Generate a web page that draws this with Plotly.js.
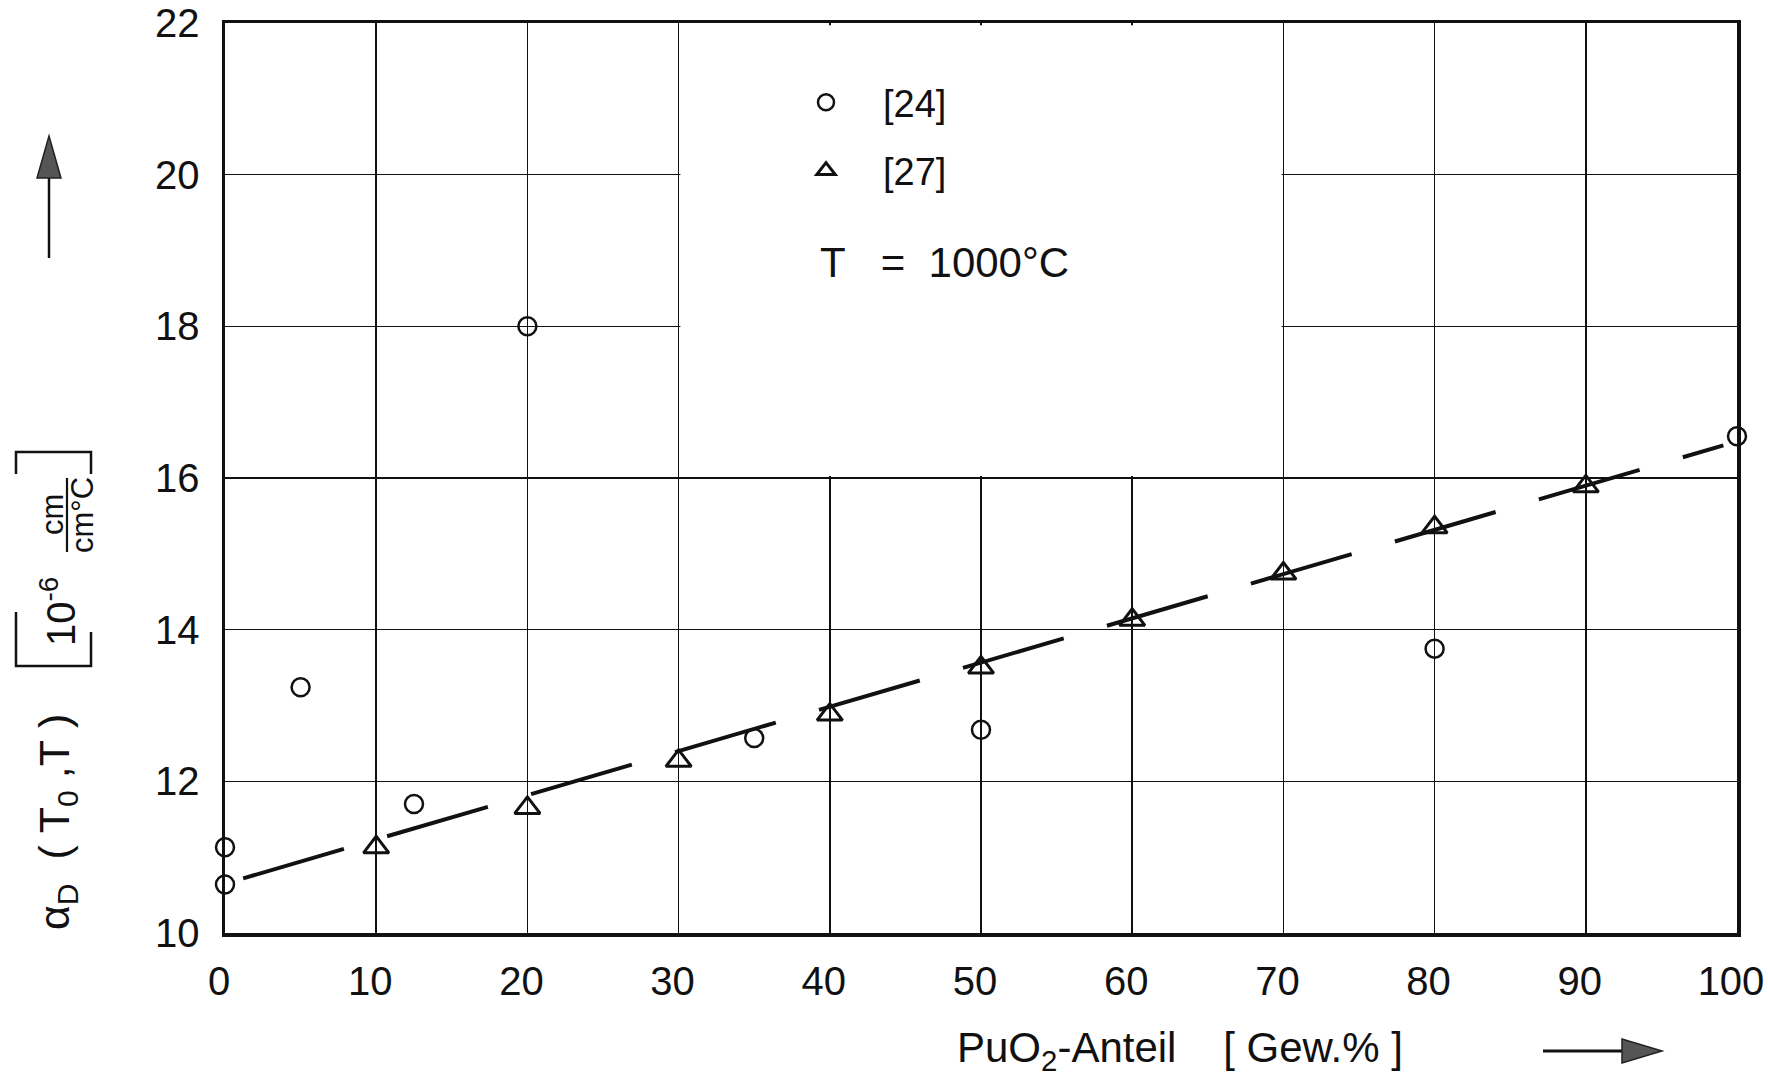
<!DOCTYPE html>
<html>
<head>
<meta charset="utf-8">
<script src="https://cdn.plot.ly/plotly-3.0.1.min.js"></script>
<style>
html,body{margin:0;padding:0;background:#fff;}
#chart{width:1768px;height:1081px;}
</style>
</head>
<body>
<div id="chart"></div>
<script>
// Data
const xTicks = [0, 10, 20, 30, 40, 50, 60, 70, 80, 90, 100];
const yTicks = [10, 12, 14, 16, 18, 20, 22];

const ref24X = [0, 0, 5, 12.5, 20, 35, 50, 80, 100];
const ref24Y = [11.13, 10.64, 13.24, 11.70, 18.0, 12.57, 12.68, 13.75, 16.55];

const ref27X = [10, 20, 30, 40, 50, 60, 70, 80, 90];
const ref27Y = [11.13, 11.65, 12.27, 12.88, 13.50, 14.13, 14.74, 15.35, 15.89];

const fitX = [1.2, 99.1];
const fitY = [10.72, 16.43];

const FONT = "Liberation Sans, Arial, sans-serif";

// layout geometry helpers (pixel -> paper)
const L = 225, R = 31, T = 23, B = 148, W = 1768, H = 1081;
const PW = W - L - R, PH = H - T - B;
const px = x => (x - L) / PW;
const py = y => (H - B - y) / PH;
const NB = n => '\u00A0'.repeat(n);

const traces = [
  {
    x: fitX, y: fitY, type: 'scatter', mode: 'lines',
    line: {color: '#111', width: 4, dash: '105px,45px'},
    showlegend: false, hoverinfo: 'skip'
  },
  {
    x: ref24X, y: ref24Y, type: 'scatter', mode: 'markers', name: '[24]',
    legendgroup: 'a',
    marker: {symbol: 'circle-open', size: 18, color: '#111', line: {width: 2.5, color: '#111'}},
    cliponaxis: false
  },
  {
    x: ref27X, y: ref27Y, type: 'scatter', mode: 'markers', name: '[27]',
    legendgroup: 'b',
    marker: {symbol: 'triangle-up-open', size: 22, color: '#111', line: {width: 3, color: '#111'}},
    cliponaxis: false
  }
];

function pathFromPx(pts, close) {
  return 'M ' + pts.map(p => px(p[0]).toFixed(5) + ',' + py(p[1]).toFixed(5)).join(' L ') + (close ? ' Z' : '');
}

const shapes = [
  // blank area behind the legend
  {type: 'rect', xref: 'x', yref: 'y', x0: 30.12, x1: 69.88, y0: 16.025, y1: 21.97,
   fillcolor: '#ffffff', line: {width: 0}, layer: 'above'},
  // fraction bar in y-title
  {type: 'path', xref: 'paper', yref: 'paper', path: pathFromPx([[67, 478], [67, 552]]),
   line: {color: '#111', width: 2.2}},
  // lower bracket
  {type: 'path', xref: 'paper', yref: 'paper', path: pathFromPx([[16, 612], [16, 666], [91, 666], [91, 632]]),
   line: {color: '#111', width: 2.5}},
  // upper bracket
  {type: 'path', xref: 'paper', yref: 'paper', path: pathFromPx([[16, 474], [16, 452], [91, 452], [91, 474]]),
   line: {color: '#111', width: 2.5}},
  // vertical arrow (left)
  {type: 'path', xref: 'paper', yref: 'paper', path: pathFromPx([[49, 258], [49, 176]]),
   line: {color: '#111', width: 2.5}},
  {type: 'path', xref: 'paper', yref: 'paper', path: pathFromPx([[49, 136], [37, 178], [61, 178]], true),
   fillcolor: '#555', line: {color: '#222', width: 1.5}},
  // horizontal arrow (bottom right)
  {type: 'path', xref: 'paper', yref: 'paper', path: pathFromPx([[1543, 1051], [1624, 1051]]),
   line: {color: '#111', width: 3}},
  {type: 'path', xref: 'paper', yref: 'paper', path: pathFromPx([[1662, 1051], [1622, 1039], [1622, 1063]], true),
   fillcolor: '#555', line: {color: '#222', width: 1.5}}
];

const annotations = [
  {text: 'T' + NB(3) + '=' + NB(2) + '1000°C', xref: 'paper', yref: 'paper', x: px(818), y: py(262),
   xanchor: 'left', yanchor: 'middle', showarrow: false, font: {family: FONT, size: 42, color: '#111'}},
  {text: 'PuO<sub>2</sub>-Anteil' + NB(4) + '[' + NB(1) + 'Gew.%' + NB(1) + ']', xref: 'paper', yref: 'paper', x: px(955), y: py(1050),
   xanchor: 'left', yanchor: 'middle', showarrow: false, font: {family: FONT, size: 42, color: '#111'}},
  {text: 'α<sub>D</sub>' + NB(2) + '(' + NB(1) + 'T<sub>0</sub>' + NB(1) + ',T' + NB(1) + ')', xref: 'paper', yref: 'paper', x: px(57), y: py(822),
   xanchor: 'center', yanchor: 'middle', textangle: -90, showarrow: false, font: {family: FONT, size: 43, color: '#111'}},
  {text: '10<sup>-6</sup>', xref: 'paper', yref: 'paper', x: px(58), y: py(612),
   xanchor: 'center', yanchor: 'middle', textangle: -90, showarrow: false, font: {family: FONT, size: 40, color: '#111'}},
  {text: 'cm', xref: 'paper', yref: 'paper', x: px(52), y: py(515),
   xanchor: 'center', yanchor: 'middle', textangle: -90, showarrow: false, font: {family: FONT, size: 31, color: '#111'}},
  {text: 'cm°C', xref: 'paper', yref: 'paper', x: px(82), y: py(515),
   xanchor: 'center', yanchor: 'middle', textangle: -90, showarrow: false, font: {family: FONT, size: 31, color: '#111'}}
];

const layout = {
  width: W, height: H,
  margin: {l: L, r: R, t: T, b: B, pad: 0},
  paper_bgcolor: '#fff', plot_bgcolor: '#fff',
  font: {family: FONT, color: '#111', size: 40},
  showlegend: true,
  legend: {
    x: px(769), y: py(71), xanchor: 'left', yanchor: 'top',
    bgcolor: 'rgba(0,0,0,0)', borderwidth: 0,
    font: {family: FONT, size: 38, color: '#111'},
    itemwidth: 104, tracegroupgap: 16, traceorder: 'grouped'
  },
  xaxis: {
    range: [0, 100], tickmode: 'array', tickvals: xTicks, ticktext: xTicks.map(String),
    showgrid: true, gridcolor: '#111', gridwidth: 1.6,
    showline: true, linecolor: '#111', linewidth: 3.5, mirror: true,
    zeroline: false, ticks: '', ticklabelstandoff: 10, ticklabeloverflow: 'allow',
    ticklabelshift: -6,
    tickfont: {family: FONT, size: 40, color: '#111'}
  },
  yaxis: {
    range: [10, 22], tickmode: 'array', tickvals: yTicks, ticktext: yTicks.map(String),
    showgrid: true, gridcolor: '#111', gridwidth: 1.6,
    showline: true, linecolor: '#111', linewidth: 3.5, mirror: true,
    zeroline: false, ticks: '', ticklabelstandoff: 14, ticklabeloverflow: 'allow',
    tickfont: {family: FONT, size: 40, color: '#111'}
  },
  shapes: shapes,
  annotations: annotations
};

Plotly.newPlot('chart', traces, layout, {displayModeBar: false, staticPlot: true});
</script>
</body>
</html>
